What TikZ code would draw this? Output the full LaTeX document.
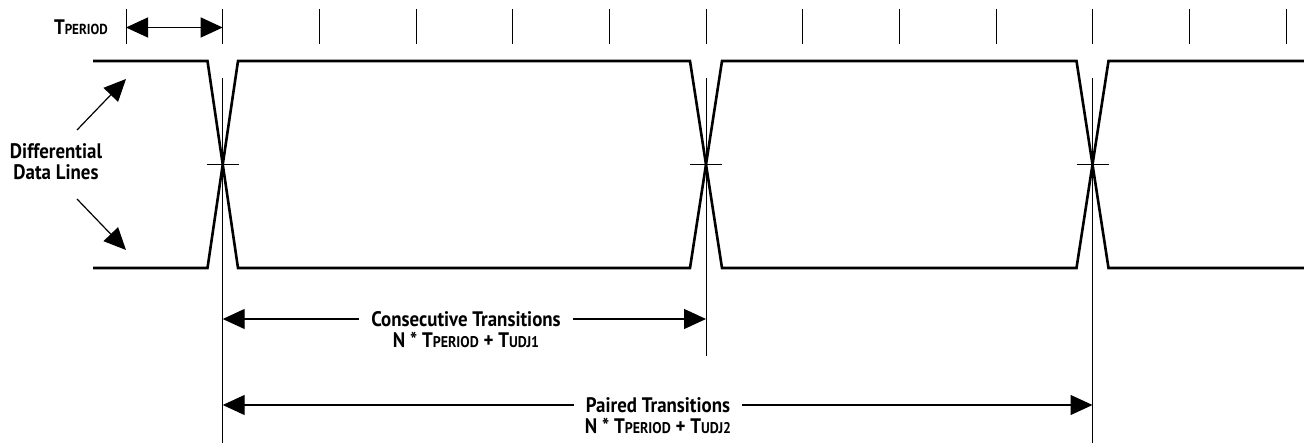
\documentclass[tikz,border=0pt]{standalone}
\usepackage{fontspec}
\setmainfont{PT Sans}[FakeStretch=0.9]
\usetikzlibrary{arrows.meta}
\tikzset{
  sig/.style={line width=2.6pt, line join=miter},
  tickln/.style={line width=1pt},
  guide/.style={line width=0.9pt},
  tip/.tip={Triangle[length=22pt,width=20pt]},
  dimarr/.style={line width=1.2pt, -tip},
  lbl/.style={font=\bfseries\fontsize{21}{21}\selectfont, inner ysep=0pt, inner xsep=12pt, fill=white},
  txt/.style={font=\bfseries\fontsize{21}{21}\selectfont, inner sep=0pt},
}
\newcommand{\smc}[1]{{\fontsize{15.5}{15.5}\selectfont #1}}
\begin{document}
\begin{tikzpicture}[x=1pt,y=-1pt]
\useasboundingbox (0,0) rectangle (1304,443);
% ticks
\foreach \i in {0,...,12} \draw[tickln] ({126+96.67*\i},9) -- ++(0,35);
% signals
\draw[sig] (93,61) -- (207.5,61) -- (238,268) -- (690,268) -- (722,61) -- (1076.5,61) -- (1108.5,268) -- (1310,268);
\draw[sig] (93,268) -- (207.5,268) -- (238,61) -- (690,61) -- (722,268) -- (1076.5,268) -- (1108.5,61) -- (1310,61);
% guides
\coordinate (g1) at (222.7,164.5);
\coordinate (g2) at (706,164.5);
\coordinate (g3) at (1092.5,164.5);
\draw[guide] (222.7,78) -- (222.7,443);
\draw[guide] (706,78) -- (706,356);
\draw[guide] (1092.5,78) -- (1092.5,443);
\foreach \g in {g1,g2,g3} \draw[guide] ([xshift=-16pt]\g) -- ([xshift=16pt]\g);
% T period
\node[txt, anchor=east] (tp) at (108,27) {T{\fontsize{14.5}{14.5}\selectfont PERIOD}};
\coordinate (tpa) at (126,27.5);
\coordinate (tpb) at (222.7,27.5);
\draw[line width=1.2pt, tip-tip] (tpa) -- (tpb);
% differential data lines
\node[txt, align=center] (dd) at (56,162) {Differential\\Data Lines};
\coordinate (d1s) at (77,130);
\coordinate (d1e) at (126,79);
\coordinate (d2s) at (77,199);
\coordinate (d2e) at (126,250);
\draw[dimarr] (d1s) -- (d1e);
\draw[dimarr] (d2s) -- (d2e);
% consecutive
\node[lbl] (ct) at (466,319) {Consecutive Transitions};
\node[txt] (cf) at (466,340) {N * T\smc{PERIOD} + T\smc{UDJ1}};
\coordinate (c1) at (222.7,319);
\coordinate (c2) at (706,319);
\draw[dimarr] (ct.west) -- (c1);
\draw[dimarr] (ct.east) -- (c2);
% paired
\node[lbl] (pt) at (658,405) {Paired Transitions};
\node[txt] (pf) at (658,426) {N * T\smc{PERIOD} + T\smc{UDJ2}};
\coordinate (p1) at (222.7,405);
\coordinate (p2) at (1092.5,405);
\draw[dimarr] (pt.west) -- (p1);
\draw[dimarr] (pt.east) -- (p2);
\end{tikzpicture}
\end{document}
